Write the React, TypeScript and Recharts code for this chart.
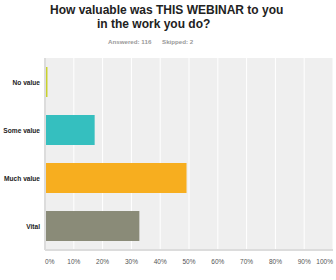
import React from "react";
import { BarChart, Bar, XAxis, YAxis, CartesianGrid, Cell } from "recharts";

const categories = ["No value", "Some value", "Much value", "Vital"];
const percents = [0.86, 17.24, 49.14, 32.76];
const colors = ["#c9d12b", "#35bfbf", "#f7ae1f", "#8a8b78"];
const xTicks = [0, 10, 20, 30, 40, 50, 60, 70, 80, 90, 100];

const data = categories.map((name, i) => ({ name, value: percents[i] }));

const FONT = "'Liberation Sans', Arial, sans-serif";

const XTick = (props: any) => {
  const { x, y, payload } = props;
  const v = payload.value;
  const anchor = v === 0 ? "start" : v === 100 ? "end" : "middle";
  return (
    <text
      x={x}
      y={y}
      dy={6}
      textAnchor={anchor}
      fontSize={6.5}
      fill="#555"
      fontFamily={FONT}
    >
      {v}%
    </text>
  );
};

const YTick = (props: any) => {
  const { y, payload } = props;
  return (
    <text
      x={40}
      y={y}
      dy={2.5}
      textAnchor="end"
      fontSize={6.6}
      fontWeight="bold"
      fill="#222"
      fontFamily={FONT}
    >
      {payload.value}
    </text>
  );
};

const App = () => {
  return (
    <div style={{ position: "absolute", left: 0, top: 0, width: 336, height: 280, background: "#fff" }}>
      <svg width={336} height={280} style={{ position: "absolute", left: 0, top: 0 }}>
        <text x={50} y={14} fontSize={12} fontWeight="bold" fill="#222" fontFamily={FONT}>
          How valuable was THIS WEBINAR to you
        </text>
        <text x={97} y={28} fontSize={12} fontWeight="bold" fill="#222" fontFamily={FONT}>
          in the work you do?
        </text>
        <text x={108} y={44} fontSize={6.2} fontWeight="bold" fill="#999" fontFamily={FONT}>
          Answered: 116
        </text>
        <text x={162} y={44} fontSize={6.2} fontWeight="bold" fill="#999" fontFamily={FONT}>
          Skipped: 2
        </text>
      </svg>
      <div style={{ position: "absolute", left: 0, top: 0 }}>
        <BarChart
          width={336}
          height={280}
          data={data}
          layout="vertical"
          margin={{ top: 58, right: 3, bottom: 0, left: 0 }}
          barCategoryGap={0}
        >
          <CartesianGrid fill="#efefef" stroke="#ffffff" horizontal={false} />
          <XAxis
            type="number"
            domain={[0, 100]}
            ticks={xTicks}
            height={30}
            tickLine={false}
            axisLine={{ stroke: "#dcdcdc", strokeWidth: 2 }}
            tick={<XTick />}
            interval={0}
          />
          <YAxis
            type="category"
            dataKey="name"
            width={45}
            tickLine={false}
            axisLine={{ stroke: "#dcdcdc", strokeWidth: 2 }}
            tick={<YTick />}
          />
          <Bar dataKey="value" barSize={30} isAnimationActive={false}>
            {data.map((d, i) => (
              <Cell key={d.name} fill={colors[i]} />
            ))}
          </Bar>
        </BarChart>
      </div>
    </div>
  );
};

export default App;
